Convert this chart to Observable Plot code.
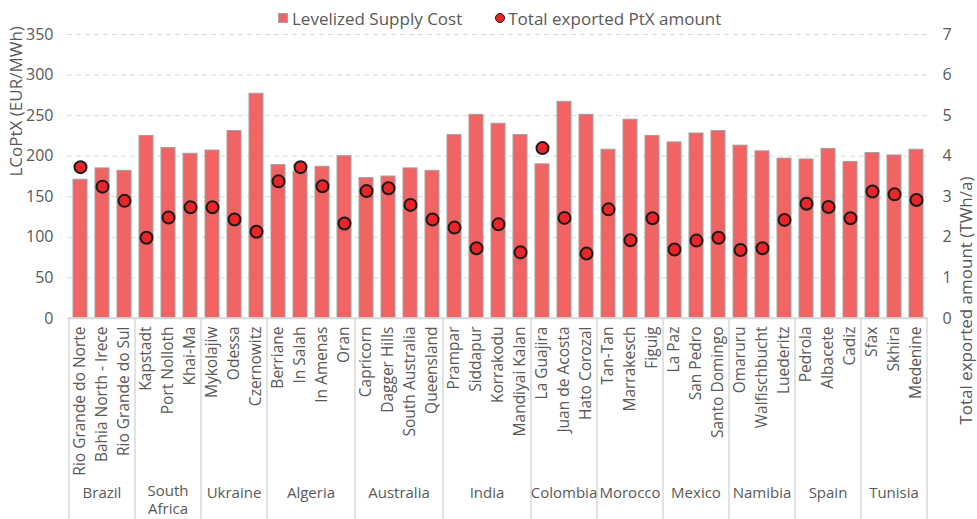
<!DOCTYPE html>
<html><head><meta charset="utf-8">
<script src="https://cdn.jsdelivr.net/npm/d3@7"></script>
<script src="https://cdn.jsdelivr.net/npm/@observablehq/plot@0.6"></script>
<style>
body{margin:0;background:#fff;font-family:"Open Sans",sans-serif;color:#595959;width:977px;overflow:hidden}
#legend{height:26px;display:flex;align-items:center;font-size:17px;padding-left:278px;box-sizing:border-box;padding-top:10px}
#legend .item{display:flex;align-items:center;margin-right:33px;white-space:nowrap}
#legend .sw{width:8px;height:8px;background:#F06464;border:1px solid #a6a6a6;margin-right:4px}
#legend .dt{width:8px;height:8px;border-radius:50%;background:#E8262A;border:1.5px solid #1a1a1a;margin-right:3px}
</style></head><body>
<div id="legend"></div>
<div id="chart"></div>
<script>
const sites = ["Rio Grande do Norte","Bahia North - Irece","Rio Grande do Sul","Kapstadt","Port Nolloth","Khai-Ma","Mykolajiw","Odessa","Czernowitz","Berriane","In Salah","In Amenas","Oran","Capricorn","Dagger Hills","South Australia","Queensland","Prampar","Siddapur","Korrakodu","Mandiyai Kalan","La Guajira","Juan de Acosta","Hato Corozal","Tan-Tan","Marrakesch","Figuig","La Paz","San Pedro","Santo Domingo","Omaruru","Walfischbucht","Luederitz","Pedrola","Albacete","Cadiz","Sfax","Skhira","Medenine"];
const countries = ["Brazil","Brazil","Brazil","South Africa","South Africa","South Africa","Ukraine","Ukraine","Ukraine","Algeria","Algeria","Algeria","Algeria","Australia","Australia","Australia","Australia","India","India","India","India","Colombia","Colombia","Colombia","Morocco","Morocco","Morocco","Mexico","Mexico","Mexico","Namibia","Namibia","Namibia","Spain","Spain","Spain","Tunisia","Tunisia","Tunisia"];
const lcoptx = [171,185,182,225,210,203,207,231,277,189,181,187,200,173,175,185,182,226,251,240,226,190,267,251,208,245,225,217,228,231,213,206,197,196,209,193,204,201,208];
const exported = [3.73,3.25,2.90,1.99,2.49,2.74,2.74,2.44,2.14,3.38,3.73,3.26,2.34,3.14,3.21,2.80,2.44,2.24,1.73,2.32,1.63,4.20,2.48,1.60,2.69,1.93,2.47,1.70,1.92,1.99,1.69,1.73,2.43,2.83,2.75,2.47,3.13,3.06,2.92];
const leftTicks = [0,50,100,150,200,250,300,350];
const rightTicks = [0,1,2,3,4,5,6,7];
const legendLabels = ["Levelized Supply Cost","Total exported PtX amount"];
const ratio = 350 / 7;

const data = sites.map((s, i) => ({site: s, country: countries[i], cost: lcoptx[i], amount: exported[i]}));

document.getElementById("legend").innerHTML =
  `<div class="item"><div class="sw"></div>${legendLabels[0]}</div>` +
  `<div class="item"><div class="dt"></div>${legendLabels[1]}</div>`;

const W = 977, H = 493, mL = 67, mR = 49, mT = 8, mB = 201;
const grid = "#d9d9d9";

const plot = Plot.plot({
  width: W, height: H,
  marginLeft: mL, marginRight: mR, marginTop: mT, marginBottom: mB,
  style: {fontFamily: "'Open Sans', sans-serif", fontSize: "16px", color: "#595959", background: "#fff", overflow: "visible"},
  x: {domain: sites, paddingInner: 0.366, paddingOuter: 0.183, align: 0.5, label: null},
  y: {domain: [0, 350], label: null},
  marks: [
    Plot.ruleY(leftTicks.filter(d => d > 0), {stroke: grid, strokeWidth: 1, strokeDasharray: "5,4"}),
    Plot.barY(data, {x: "site", y: "cost", fill: "#F06464", stroke: "#a0a0a0", strokeWidth: 1}),
    Plot.ruleY([0], {stroke: grid, strokeWidth: 1.5}),
    Plot.dot(data, {x: "site", y: d => d.amount * ratio, r: 6, fill: "#E8262A", stroke: "#1a1a1a", strokeWidth: 2}),
    Plot.axisY(leftTicks, {anchor: "left", tickSize: 0, tickPadding: 14, label: null, fill: "#595959"}),
    Plot.axisY(rightTicks.map(d => d * ratio), {anchor: "right", tickSize: 0, tickPadding: 14, tickFormat: d => d / ratio, label: null, fill: "#595959"}),
    Plot.axisX({tickSize: 0, tickPadding: 8, tickRotate: -90, label: null, fill: "#595959", fontSize: 15.5}),
    Plot.text(["LCoPtX (EUR/MWh)"], {frameAnchor: "left", dx: -51, rotate: -90, fill: "#595959", fontSize: 17}),
    Plot.text(["Total exported amount (TWh/a)"], {frameAnchor: "right", dx: 38, rotate: -90, fill: "#595959", fontSize: 17})
  ]
});

// group separators and labels, positioned via the x scale
const xs = plot.scale("x");
const step = xs.step;
const svg = d3.select(plot);
const groups = [];
countries.forEach((c, i) => {
  if (!groups.length || groups[groups.length - 1].name !== c) groups.push({name: c, first: sites[i], last: sites[i]});
  else groups[groups.length - 1].last = sites[i];
});
const yBottom = H - mB;
const g = svg.append("g");
const xsPos = s => xs.apply(s) + xs.bandwidth / 2;
const bounds = groups.map(gr => xsPos(gr.first) - step / 2);
bounds.push(xsPos(groups[groups.length - 1].last) + step / 2);
bounds.forEach(b => g.append("line").attr("x1", b).attr("x2", b).attr("y1", yBottom).attr("y2", H)
  .attr("stroke", grid).attr("stroke-width", 1.5));
g.append("line").attr("x1", bounds[0]).attr("x2", bounds[bounds.length - 1]).attr("y1", yBottom).attr("y2", yBottom)
  .attr("stroke", grid).attr("stroke-width", 1.5);
groups.forEach(gr => {
  const cx = (xsPos(gr.first) + xsPos(gr.last)) / 2;
  const words = gr.name === "South Africa" ? ["South", "Africa"] : [gr.name];
  const y0 = words.length > 1 ? 171.5 : 173.5;
  words.forEach((w, k) => g.append("text").attr("x", cx).attr("y", yBottom + y0 + k * 18.5)
    .attr("text-anchor", "middle").attr("dominant-baseline", "central")
    .attr("fill", "#595959").style("font-size", "15px").text(w));
});

document.getElementById("chart").appendChild(plot);
</script>
</body></html>
